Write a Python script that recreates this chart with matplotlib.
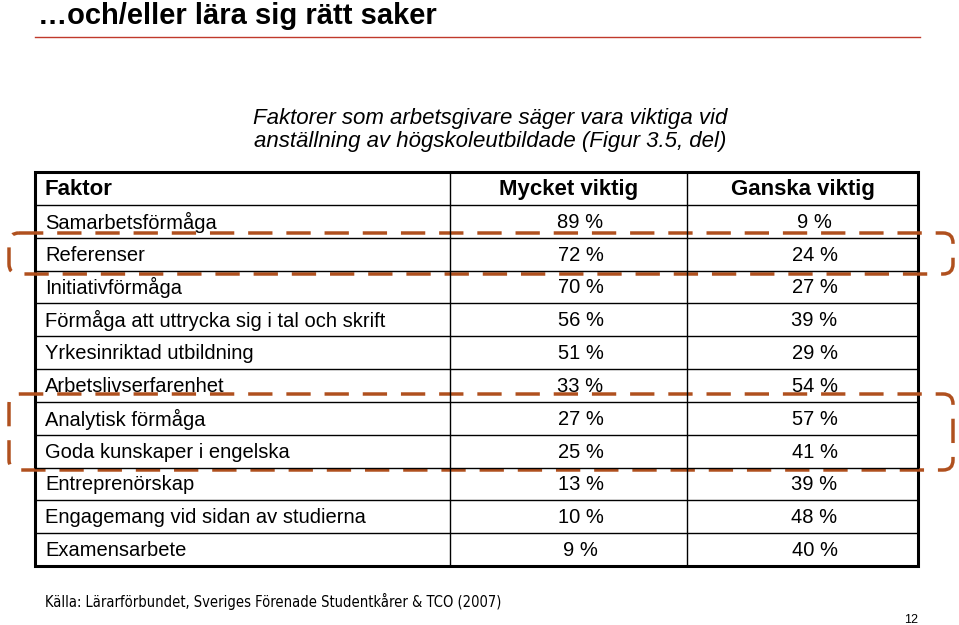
import matplotlib.pyplot as plt
from matplotlib.patches import FancyBboxPatch

factors = ["Samarbetsförmåga", "Referenser", "Initiativförmåga",
           "Förmåga att uttrycka sig i tal och skrift", "Yrkesinriktad utbildning",
           "Arbetslivserfarenhet", "Analytisk förmåga", "Goda kunskaper i engelska",
           "Entreprenörskap", "Engagemang vid sidan av studierna", "Examensarbete"]
mycket = [89, 72, 70, 56, 51, 33, 27, 25, 13, 10, 9]
ganska = [9, 24, 27, 39, 29, 54, 57, 41, 39, 48, 40]
headers = ["Faktor", "Mycket viktig", "Ganska viktig"]

plt.rcParams["font.family"] = ["Liberation Sans", "DejaVu Sans"]
fig = plt.figure(figsize=(9.59, 6.25), dpi=100)
ax = fig.add_axes([0, 0, 1, 1])
ax.set_xlim(0, 959)
ax.set_ylim(625, 0)
ax.axis("off")

ax.text(38, 16, "…och/eller lära sig rätt saker", fontsize=21, fontweight="bold", va="center")
ax.plot([35, 920], [37, 37], color="#C0392B", lw=1)
ax.text(490, 130, "Faktorer som arbetsgivare säger vara viktiga vid\nanställning av högskoleutbildade (Figur 3.5, del)",
        fontsize=16, style="italic", ha="center", va="center", linespacing=1.15)

left, right, top, bottom = 35, 918, 172, 566
c1, c2 = 450, 687
rh = (bottom - top) / (len(factors) + 1)
for i in range(1, len(factors) + 1):
    ax.plot([left, right], [top + i * rh] * 2, color="black", lw=1)
for x in (c1, c2):
    ax.plot([x, x], [top, bottom], color="black", lw=1)
ax.add_patch(plt.Rectangle((left, top), right - left, bottom - top, fill=False, lw=2.2, ec="black"))

yh = top + rh / 2 + 1
ax.text(45, yh, headers[0], fontsize=16, fontweight="bold", va="center")
ax.text((c1 + c2) / 2, yh, headers[1], fontsize=16, fontweight="bold", va="center", ha="center")
ax.text((c2 + right) / 2, yh, headers[2], fontsize=16, fontweight="bold", va="center", ha="center")
for i, (f, m, g) in enumerate(zip(factors, mycket, ganska)):
    y = top + (i + 1.5) * rh + 1
    ax.text(45, y, f, fontsize=14.5, va="center")
    ax.text((c1 + c2) / 2 + 12, y, f"{m} %", fontsize=14.5, va="center", ha="center")
    ax.text((c2 + right) / 2 + 12, y, f"{g} %", fontsize=14.5, va="center", ha="center")

for y0, y1 in [(233, 274), (394, 470)]:
    ax.add_patch(FancyBboxPatch((9, y0), 944, y1 - y0, boxstyle="round,pad=0,rounding_size=10",
                                fill=False, ec="#B0501E", lw=2.5, ls=(0, (7, 4))))

ax.text(45, 601, "Källa: Lärarförbundet, Sveriges Förenade Studentkårer & TCO (2007)", fontsize=10.5,
        va="center", family="DejaVu Sans", fontstretch="condensed")
ax.text(918, 620, "12", fontsize=9, ha="right", va="center")

fig.savefig("out.png", dpi=100)
